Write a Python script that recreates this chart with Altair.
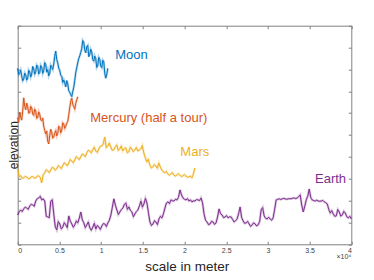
import altair as alt
import pandas as pd

# ---- data (elevation in arbitrary units, axis 0..100) ----
bodies = ["Moon", "Mercury", "Mars", "Earth"]
colors = ["#0072BD", "#D95319", "#EDB120", "#7E2F8E"]

moon_step = 120  # metres between samples
moon_elev = [80.5, 77.6, 78.2, 79.5, 77.0, 74.8, 75.6, 78.3, 77.4, 75.1, 76.0, 79.6,
             78.8, 76.5, 77.9, 81.4, 80.2, 77.8, 79.0, 82.0, 81.3, 77.9, 78.6, 81.8,
             80.9, 78.2, 79.4, 83.1, 82.3, 78.7, 79.9, 77.1, 78.3, 81.9, 81.0, 80.0,
             82.5, 86.0, 88.4, 84.5, 83.0, 80.6, 79.5, 77.4, 76.8, 74.0, 75.2, 73.8,
             72.0, 74.9, 73.4, 70.2, 69.5, 68.4, 67.6, 69.9, 71.8, 75.0, 78.5, 80.8,
             83.0, 85.0, 86.2, 87.8, 89.5, 93.2, 92.4, 88.9, 87.6, 90.4, 91.0, 85.8,
             86.9, 89.2, 88.0, 84.5, 83.8, 86.1, 84.9, 80.9, 81.7, 85.5, 84.6, 81.5,
             80.8, 84.2, 83.5, 78.2, 76.0, 77.8, 80.5]

mercury_step = 120
mercury_elev = [58.0, 55.8, 60.5, 58.2, 56.8, 61.0, 67.0, 63.2, 61.5, 64.6, 63.0, 60.0,
                60.2, 63.1, 62.4, 59.6, 59.0, 61.8, 61.0, 57.6, 58.0, 60.6, 59.5, 56.9,
                56.5, 57.8, 54.0, 52.1, 50.5, 51.9, 47.2, 45.9, 49.8, 52.6, 51.2, 48.6,
                49.0, 50.9, 52.0, 49.6, 50.8, 54.0, 53.5, 51.0, 52.2, 55.6, 55.0, 53.0,
                54.0, 55.4, 56.2, 59.0, 62.5, 65.5, 66.8, 64.0, 63.0, 61.8, 64.5, 66.0,
                67.5]

mars_step = 180
mars_elev = [34.5, 31.0, 31.3, 30.2, 30.4, 31.1, 30.8, 30.1, 30.0, 30.9, 31.0, 30.3,
             30.4, 31.2, 31.3, 30.6, 28.1, 31.8, 32.7, 34.1, 33.6, 32.8, 34.0, 35.2,
             34.9, 33.9, 34.5, 36.0, 35.4, 34.6, 35.9, 37.3, 36.8, 35.9, 37.2, 38.8,
             38.1, 37.3, 38.6, 40.1, 39.5, 38.7, 40.0, 41.3, 40.9, 40.1, 41.8, 43.0,
             42.7, 41.8, 43.2, 44.4, 42.7, 42.0, 43.6, 44.8, 45.0, 46.0, 49.1, 44.2,
             45.0, 46.3, 44.5, 43.0, 43.2, 44.6, 45.5, 42.9, 43.6, 45.0, 42.7, 43.8,
             44.1, 41.9, 42.3, 44.5, 43.6, 42.4, 43.2, 44.3, 42.7, 43.1, 43.6, 45.2,
             41.8, 39.6, 37.7, 38.9, 36.3, 34.9, 35.4, 36.5, 35.9, 34.8, 37.2, 35.3,
             34.0, 33.1, 32.7, 33.4, 32.2, 31.6, 32.2, 32.8, 31.7, 31.2, 31.7, 32.3,
             31.7, 31.0, 31.3, 31.9, 31.3, 30.7, 30.8, 31.2, 30.4, 32.0, 34.9]

earth_span = 40000
earth_elev = [13.4, 14.9, 15.7, 15.0, 16.2, 17.0, 16.6, 16.0, 17.5, 18.3, 18.0, 17.4,
              19.8, 20.9, 21.2, 22.0, 20.3, 20.8, 19.8, 12.8, 12.5, 12.2, 19.8, 20.4,
              13.9, 8.0, 6.6, 10.4, 9.3, 7.0, 7.9, 9.9, 8.9, 7.6, 13.0, 10.6,
              9.3, 7.8, 8.9, 10.7, 9.8, 12.0, 14.8, 11.2, 9.8, 7.6, 8.9, 10.2,
              7.5, 6.4, 7.9, 9.6, 7.0, 8.6, 7.9, 6.8, 8.4, 9.5, 9.3, 8.1,
              9.8, 11.0, 13.4, 17.0, 20.8, 17.9, 15.7, 13.6, 14.8, 15.9, 16.6, 18.3,
              18.9, 16.0, 17.1, 15.5, 14.8, 12.6, 13.9, 15.0, 15.7, 17.6, 19.8, 17.0,
              18.5, 21.0, 18.9, 14.5, 10.2, 8.6, 9.3, 10.8, 10.2, 9.0, 11.6, 12.8,
              12.1, 14.0, 16.6, 18.9, 19.4, 18.6, 20.3, 19.9, 19.8, 20.6, 20.3, 21.5,
              24.9, 22.6, 21.2, 20.6, 20.3, 20.9, 19.8, 20.3, 19.4, 19.9, 19.8, 20.5,
              20.3, 20.0, 21.2, 19.0, 13.9, 11.0, 10.2, 9.0, 9.3, 10.5, 10.2, 9.1,
              9.8, 12.5, 16.2, 14.0, 13.4, 12.2, 12.5, 13.1, 12.1, 12.6, 12.5, 11.4,
              10.2, 10.8, 11.6, 14.0, 17.1, 12.3, 10.7, 9.6, 9.8, 10.5, 9.3, 8.2,
              8.9, 9.8, 9.3, 8.4, 8.9, 10.4, 15.7, 16.8, 13.0, 11.9, 11.6, 12.4,
              11.6, 11.0, 12.1, 16.0, 20.3, 20.6, 20.8, 20.5, 20.8, 21.0, 20.8, 20.6,
              20.8, 20.9, 20.8, 21.1, 21.2, 20.9, 21.2, 21.8, 22.6, 18.0, 14.8, 17.2,
              20.3, 22.0, 25.3, 21.4, 20.3, 20.0, 19.8, 20.2, 19.8, 19.7, 19.8, 20.1,
              19.4, 19.0, 18.5, 16.0, 14.3, 15.4, 13.9, 12.8, 13.0, 15.9, 14.8, 12.9,
              13.4, 15.1, 14.3, 12.6, 12.1, 12.8, 11.6]
earth_step = earth_span / (len(earth_elev) - 1)

label_text = ["Moon", "Mercury (half a tour)", "Mars", "Earth"]
label_x = [11700, 8700, 19500, 35650]
label_y = [86.6, 57.8, 42.3, 29.9]

x_ticks = [0, 5000, 10000, 15000, 20000, 25000, 30000, 35000, 40000]
y_ticks = [0, 10, 20, 30, 40, 50, 60, 70, 80, 90, 100]

# ---- tables ----
rows = []
for body, elev, step in [("Moon", moon_elev, moon_step), ("Mercury", mercury_elev, mercury_step),
                         ("Mars", mars_elev, mars_step), ("Earth", earth_elev, earth_step)]:
    for i, v in enumerate(elev):
        rows.append({"body": body, "distance": i * step, "elevation": v})
df = pd.DataFrame(rows)

labels_df = pd.DataFrame({"body": bodies, "text": label_text, "distance": label_x, "elevation": label_y})
exp_df = pd.DataFrame({"text": ["×10⁴"], "distance": [40000], "elevation": [-5.8]})

xs = alt.Scale(domain=[0, 40000], nice=False, zero=False)
ys = alt.Scale(domain=[0, 100], nice=False, zero=False)
col = alt.Color("body:N", scale=alt.Scale(domain=bodies, range=colors), legend=None)
neg = {"expr": "-3"}

x_bottom = alt.Axis(orient="bottom", values=x_ticks, labelExpr="datum.value / 10000 + ''",
                    title="scale in meter", tickSize=neg, labelPadding=5,
                    titleFontSize=13.5, titleFontWeight="normal", titleColor="#262626",
                    titleBaseline="alphabetic", titleY=26.5, titleX=169, titleAlign="center")
y_left = alt.Axis(orient="left", values=y_ticks, labels=False, title="elevation", tickSize=neg,
                  titleFontSize=12, titleFontWeight="normal", titleColor="#262626",
                  titleAngle=270, titleBaseline="alphabetic", titleAlign="center",
                  titleX=0, titleY=119)
x_top = alt.Axis(orient="top", values=x_ticks, labels=False, title=None, tickSize=neg)
y_right = alt.Axis(orient="right", values=y_ticks, labels=False, title=None, tickSize=neg)

base = alt.Chart(df)
halo = base.mark_line(strokeWidth=2.4, opacity=0.3).encode(
    x=alt.X("distance:Q", scale=xs, axis=x_bottom),
    y=alt.Y("elevation:Q", scale=ys, axis=y_left),
    color=col, detail="body:N")
line = base.mark_line(strokeWidth=1).encode(
    x=alt.X("distance:Q", scale=xs, axis=None),
    y=alt.Y("elevation:Q", scale=ys, axis=None),
    color=col, detail="body:N")
text = alt.Chart(labels_df).mark_text(align="left", baseline="middle", fontSize=13,
                                      font="Liberation Sans").encode(
    x=alt.X("distance:Q", scale=xs, axis=x_top),
    y=alt.Y("elevation:Q", scale=ys, axis=y_right),
    color=col, text="text:N")
exp = alt.Chart(exp_df).mark_text(align="right", baseline="middle", fontSize=7,
                                  font="Liberation Sans", color="#404040").encode(
    x=alt.X("distance:Q", scale=xs, axis=None),
    y=alt.Y("elevation:Q", scale=ys, axis=None),
    text="text:N")

chart = alt.layer(halo, line, text, exp).resolve_axis(x="independent", y="independent").properties(
    width=333.6, height=218.6,
    autosize=alt.AutoSizeParams(type="none"),
    padding={"left": 9.7, "top": 17.7, "right": 14.7, "bottom": 30.7},
).configure_view(stroke=None).configure_axis(
    domainColor="#808080", tickColor="#808080", labelColor="#404040",
    labelFont="Liberation Sans", titleFont="Liberation Sans", labelFontSize=7,
    grid=False, domainWidth=1, tickWidth=1)

chart.save("out.html", embed_options={"renderer": "svg", "actions": False})
